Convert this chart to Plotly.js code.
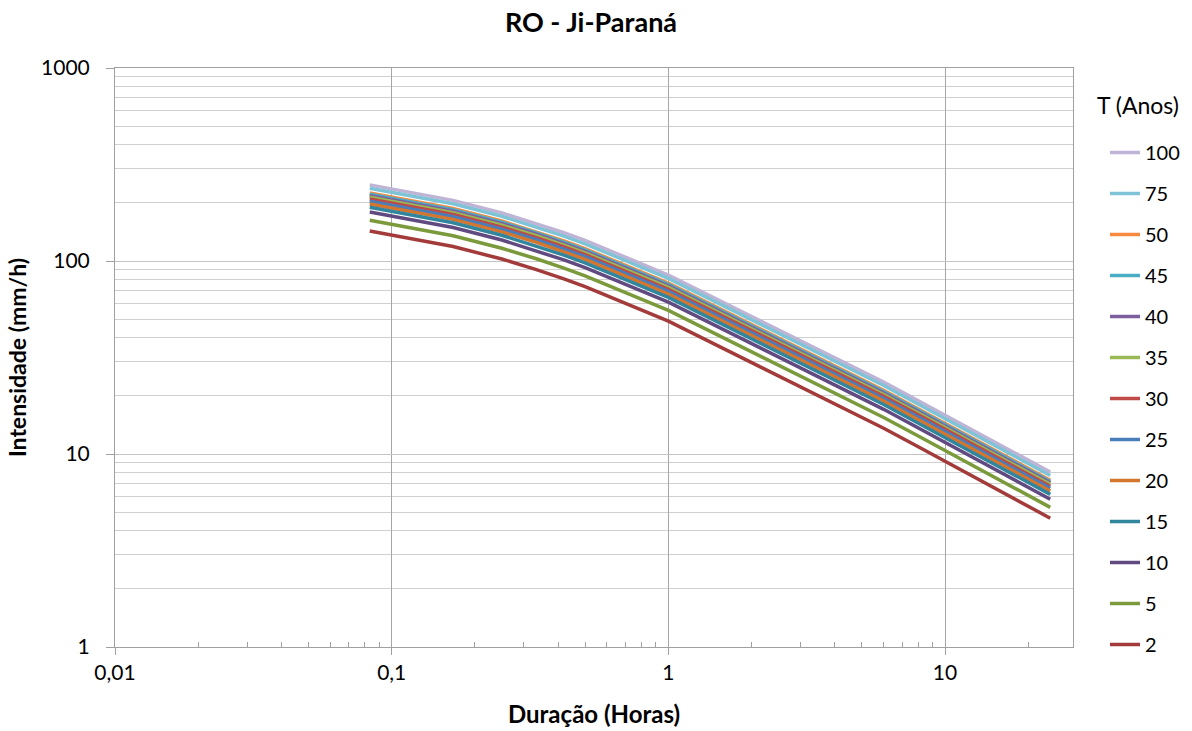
<!DOCTYPE html>
<html>
<head>
<meta charset="utf-8">
<script src="https://cdn.plot.ly/plotly-3.0.1.min.js"></script>
<style>html,body{margin:0;padding:0;background:#fff;}#chart{width:1192px;height:731px;}</style>
</head>
<body>
<div id="chart"></div>
<script>
// Durations (hours): 5,10,15,20,25,30 min, 1, 6, 8, 10, 12, 24 h
const durations = [0.0833, 0.1667, 0.25, 0.3333, 0.4167, 0.5, 1, 6, 8, 10, 12, 24];

// Return periods (legend order)
const returnPeriods = ['100', '75', '50', '45', '40', '35', '30', '25', '20', '15', '10', '5', '2'];

// Intensities (mm/h) per return period
const i100 = [248.0, 206.2, 177.6, 156.6, 140.5, 127.8, 84.6, 23.57, 18.90, 15.92, 13.84, 8.06];
const i75  = [238.1, 198.0, 170.5, 150.3, 134.9, 122.7, 81.3, 22.63, 18.15, 15.28, 13.29, 7.74];
const i50  = [224.9, 187.0, 161.1, 142.0, 127.4, 115.9, 76.8, 21.38, 17.15, 14.44, 12.55, 7.31];
const i45  = [221.7, 184.3, 158.7, 140.0, 125.6, 114.2, 75.6, 21.06, 16.90, 14.23, 12.37, 7.21];
const i40  = [217.9, 181.2, 156.1, 137.6, 123.4, 112.3, 74.4, 20.71, 16.61, 13.99, 12.16, 7.09];
const i35  = [213.9, 177.9, 153.2, 135.1, 121.2, 110.3, 73.0, 20.33, 16.31, 13.73, 11.94, 6.96];
const i30  = [209.4, 174.1, 149.9, 132.2, 118.6, 107.9, 71.4, 19.90, 15.96, 13.44, 11.68, 6.81];
const i25  = [204.1, 169.7, 146.1, 128.9, 115.6, 105.2, 69.6, 19.39, 15.55, 13.10, 11.39, 6.64];
const i20  = [197.6, 164.3, 141.5, 124.8, 111.9, 101.9, 67.4, 18.78, 15.06, 12.69, 11.03, 6.43];
const i15  = [189.9, 157.9, 136.0, 119.9, 107.6, 97.9, 64.8, 18.05, 14.48, 12.19, 10.60, 6.18];
const i10  = [179.3, 149.1, 128.4, 113.2, 101.6, 92.4, 61.2, 17.04, 13.67, 11.51, 10.01, 5.83];
const i5   = [162.6, 135.2, 116.4, 102.7, 92.1, 83.8, 55.5, 15.45, 12.39, 10.44, 9.07, 5.29];
const i2   = [143.0, 118.9, 102.4, 90.3, 81.0, 73.7, 48.8, 13.59, 10.90, 9.18, 7.98, 4.65];

const seriesValues = [i100, i75, i50, i45, i40, i35, i30, i25, i20, i15, i10, i5, i2];
const seriesColors = ['#BFB3D6', '#7EC4D6', '#F58B3F', '#4BACC6', '#7D5FA0', '#98B954',
                      '#BE4B48', '#4A7EBB', '#D5762F', '#31859C', '#604A80', '#7A9A3C', '#A33B3A'];

const xTickVals = [0.01, 0.1, 1, 10];
const xTickText = ['0,01', '0,1', '1', '10'];
const yTickVals = [1, 10, 100, 1000];
const yTickText = ['1', '10', '100', '1000'];

const xMinor = [];
[0.01, 0.1, 1, 10].forEach(d => { for (let k = 2; k <= 9; k++) { const v = d * k; if (v <= 29) xMinor.push(v); } });
const yMinor = [];
[1, 10, 100].forEach(d => { for (let k = 2; k <= 9; k++) yMinor.push(d * k); });

const FONT = 'Lato, "Open Sans", sans-serif';

const traces = returnPeriods.map((name, idx) => ({
  type: 'scatter',
  mode: 'lines',
  name: name,
  legendgroup: 'g' + idx,
  x: durations,
  y: seriesValues[idx],
  line: { color: seriesColors[idx], width: 3.5 },
  hoverinfo: 'x+y+name'
}));

const layout = {
  width: 1192,
  height: 731,
  paper_bgcolor: '#ffffff',
  plot_bgcolor: '#ffffff',
  margin: { l: 115, r: 119, t: 68, b: 84 },
  font: { family: FONT, size: 20, color: '#000000' },
  title: {
    text: '<b>RO - Ji-Paraná</b>',
    font: { family: FONT, size: 27, color: '#000000' },
    x: 0.4958, xref: 'container', xanchor: 'center',
    y: 1 - 23 / 731, yref: 'container', yanchor: 'middle'
  },
  xaxis: {
    type: 'log',
    range: [Math.log10(0.01), Math.log10(29)],
    tickmode: 'array',
    tickvals: xTickVals,
    ticktext: xTickText,
    ticks: 'outside',
    ticklen: 7,
    tickcolor: '#a0a0a0',
    tickfont: { family: FONT, size: 21, color: '#000000' },
    showgrid: true,
    gridcolor: '#a6a6a6',
    gridwidth: 1,
    showline: true,
    linecolor: '#a0a0a0',
    linewidth: 1,
    mirror: true,
    zeroline: false,
    minor: { tickmode: 'array', tickvals: xMinor, ticks: 'inside', ticklen: 5, tickcolor: '#a0a0a0', showgrid: false },
    title: { text: '<b>Duração (Horas)</b>', font: { family: FONT, size: 24, color: '#000000' }, standoff: 22 }
  },
  yaxis: {
    type: 'log',
    range: [0, 3],
    tickmode: 'array',
    tickvals: yTickVals,
    ticktext: yTickText,
    ticks: 'outside',
    ticklen: 8,
    tickcolor: '#a0a0a0',
    ticklabelstandoff: 12,
    tickfont: { family: FONT, size: 21, color: '#000000' },
    showgrid: true,
    gridcolor: '#c4c4c4',
    gridwidth: 1,
    showline: true,
    linecolor: '#a0a0a0',
    linewidth: 1,
    mirror: true,
    zeroline: false,
    minor: { tickmode: 'array', tickvals: yMinor, ticks: '', showgrid: true, gridcolor: '#d0d0d0', gridwidth: 1 },
    title: { text: '<b>Intensidade (mm/h)</b>', font: { family: FONT, size: 23, color: '#000000' }, standoff: 8 }
  },
  showlegend: true,
  legend: {
    xref: 'container', yref: 'container',
    x: 1105 / 1192, xanchor: 'left',
    y: 1 - 133 / 731, yanchor: 'top',
    maxheight: 600,
    traceorder: 'grouped',
    tracegroupgap: 12,
    bgcolor: 'rgba(0,0,0,0)',
    font: { family: FONT, size: 20, color: '#000000' }
  },
  annotations: [{
    text: 'T (Anos)',
    xref: 'paper', yref: 'paper',
    x: (1095 - 115) / 958, y: (647 - 105) / 579,
    xanchor: 'left', yanchor: 'middle',
    showarrow: false,
    font: { family: FONT, size: 23, color: '#000000' }
  }]
};

Plotly.newPlot('chart', traces, layout, { displayModeBar: false, staticPlot: true });
</script>
</body>
</html>
